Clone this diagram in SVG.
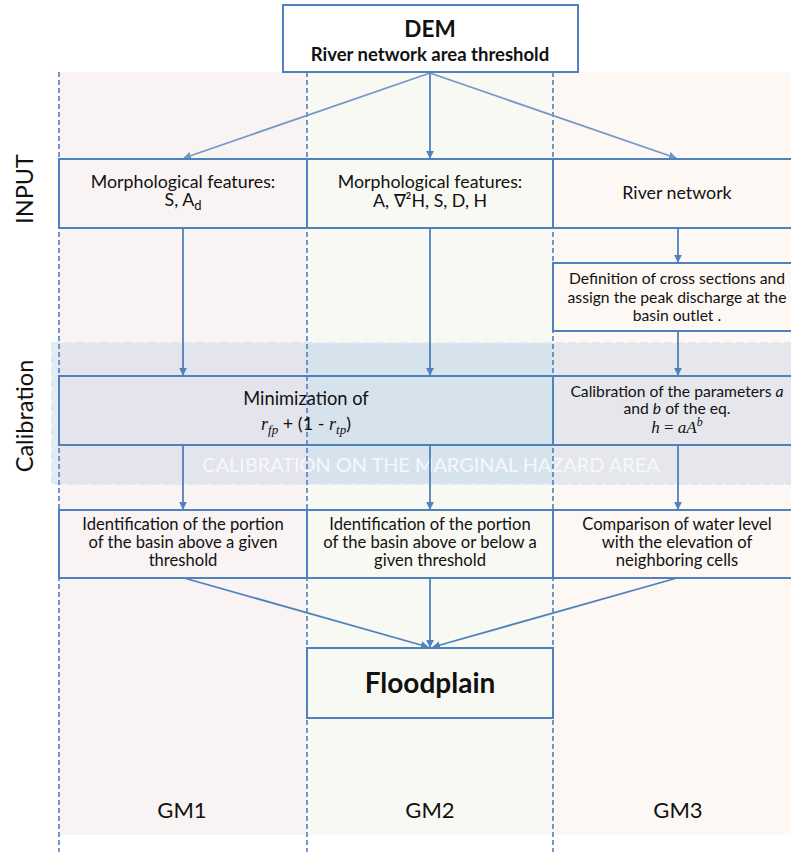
<svg xmlns="http://www.w3.org/2000/svg" width="791" height="852" viewBox="0 0 791 852">
<style>
text{font-family:Lato,"Open Sans","Liberation Sans",sans-serif;fill:#111;text-anchor:middle}
.box{fill:none;stroke:#4f81bd;stroke-width:2}
.wbox{fill:#fff;stroke:#4f81bd;stroke-width:2}
.dash{stroke:#4f81bd;stroke-width:1.6;stroke-dasharray:5 3;fill:none}
.conn{stroke:#4f81bd;stroke-width:1.8;fill:none;marker-end:url(#ah)}
.connl{stroke:#7298ca;stroke-width:1.8;fill:none;marker-end:url(#ahl)}
.t18{font-size:17.8px}
.t17{font-size:16.6px}
.t16{font-size:15.7px}
.lbl{font-size:23.5px}
.gm{font-size:22px}
.math{font-family:"Liberation Serif",serif;font-style:italic}
</style>
<defs>
<marker id="ah" viewBox="0 0 10 10" refX="9" refY="5" markerWidth="8" markerHeight="8" markerUnits="userSpaceOnUse" orient="auto"><path d="M0,0L10,5L0,10z" fill="#4f81bd"/></marker>
<marker id="ahl" viewBox="0 0 10 10" refX="9" refY="5" markerWidth="8" markerHeight="8" markerUnits="userSpaceOnUse" orient="auto"><path d="M0,0L10,5L0,10z" fill="#7298ca"/></marker>
</defs>
<rect width="791" height="852" fill="#fff"/>
<g id="columns">
<rect x="59" y="72" width="248" height="763" fill="#f9f3f3"/>
<rect x="307" y="72" width="246" height="763" fill="#f9f9f4"/>
<rect x="553" y="72" width="238" height="763" fill="#fdf8f4"/>
</g>
<g id="calibration-band">
<rect x="52" y="343" width="7" height="141" fill="#e3ecf3"/>
<rect x="59" y="343" width="248" height="141" fill="#e3e4ec"/>
<rect x="307" y="343" width="246" height="141" fill="#d6e3ed"/>
<rect x="553" y="343" width="238" height="141" fill="#e5e7ec"/>
<rect x="52" y="343" width="745" height="141" fill="none" stroke="#dbe9f4" stroke-width="2" stroke-dasharray="8 4"/>
<text x="431" y="472" style="font-size:19.9px;fill:#f6f8fb">CALIBRATION ON THE MARGINAL HAZARD AREA</text>
</g>
<g id="dividers">
<line class="dash" x1="59" y1="72" x2="59" y2="852"/>
<line class="dash" x1="307" y1="72" x2="307" y2="852"/>
<line class="dash" x1="553" y1="72" x2="553" y2="852"/>
</g>
<g id="row-labels">
<text class="lbl" transform="translate(33,189) rotate(-90)">INPUT</text>
<text class="lbl" transform="translate(33,416) rotate(-90)">Calibration</text>
</g>
<g id="connectors">
<line class="connl" x1="430" y1="73" x2="184" y2="158"/>
<line class="conn" x1="430" y1="73" x2="430" y2="158"/>
<line class="connl" x1="430" y1="73" x2="676" y2="158"/>
<line class="conn" x1="183" y1="228" x2="183" y2="375"/>
<line class="conn" x1="430" y1="228" x2="430" y2="375"/>
<line class="conn" x1="678" y1="228" x2="678" y2="262"/>
<line class="conn" x1="678" y1="331" x2="678" y2="375"/>
<line class="conn" x1="183" y1="445" x2="183" y2="509"/>
<line class="conn" x1="430" y1="445" x2="430" y2="509"/>
<line class="conn" x1="678" y1="445" x2="678" y2="509"/>
<line class="conn" x1="184" y1="578" x2="428" y2="647"/>
<line class="conn" x1="430" y1="578" x2="430" y2="647"/>
<line class="conn" x1="677" y1="578" x2="433" y2="647"/>
</g>
<g id="dem">
<rect class="wbox" x="283" y="5" width="295" height="67"/>
<text x="430" y="37" style="font-size:22.5px;font-weight:bold">DEM</text>
<text x="430" y="61" style="font-size:18.5px;font-weight:bold">River network area threshold</text>
</g>
<g id="morph1">
<rect class="box" x="59" y="159" width="248" height="69"/>
<text class="t18" x="183" y="188">Morphological features:</text>
<text class="t18" x="183" y="206">S, A<tspan font-size="13" dy="4">d</tspan></text>
</g>
<g id="morph2">
<rect class="box" x="307" y="159" width="246" height="69"/>
<text class="t18" x="430" y="188">Morphological features:</text>
<text class="t18" x="430" y="207">A, ∇²H, S, D, H</text>
</g>
<g id="river">
<rect class="box" x="553" y="159" width="245" height="69"/>
<text class="t18" x="677" y="199">River network</text>
</g>
<g id="cross">
<rect class="box" x="553" y="263" width="245" height="68"/>
<text class="t16" x="677" y="284">Definition of cross sections  and</text>
<text class="t16" x="677" y="303">assign the peak discharge at the</text>
<text class="t16" x="677" y="321">basin outlet .</text>
</g>
<g id="minimization">
<rect class="box" x="59" y="376" width="494" height="69"/>
<text x="306" y="405" style="font-size:18.3px">Minimization of</text>
<text x="306" y="430" style="font-size:18px"><tspan class="math">r</tspan><tspan class="math" font-size="13" dy="4">fp</tspan><tspan dy="-4"> + (1 - </tspan><tspan class="math">r</tspan><tspan class="math" font-size="13" dy="4">tp</tspan><tspan dy="-4">)</tspan></text>
</g>
<g id="calib3">
<rect class="box" x="553" y="376" width="245" height="69"/>
<text class="t16" x="677" y="397">Calibration of the parameters <tspan font-style="italic">a</tspan></text>
<text class="t16" x="677" y="414">and <tspan font-style="italic">b</tspan> of the eq.</text>
<text x="677" y="433" style="font-size:17px;font-family:'Liberation Serif',serif"><tspan font-style="italic">h</tspan> = <tspan font-style="italic">aA</tspan><tspan font-style="italic" font-size="12" dy="-7">b</tspan></text>
</g>
<g id="ident1">
<rect class="box" x="59" y="510" width="248" height="68"/>
<text class="t17" x="183" y="530">Identification of the portion</text>
<text class="t17" x="183" y="548">of the basin above a given</text>
<text class="t17" x="183" y="566">threshold</text>
</g>
<g id="ident2">
<rect class="box" x="307" y="510" width="246" height="68"/>
<text class="t17" x="430" y="530">Identification of the portion</text>
<text class="t17" x="430" y="548">of the basin above or below a</text>
<text class="t17" x="430" y="566">given threshold</text>
</g>
<g id="compare3">
<rect class="box" x="553" y="510" width="245" height="68"/>
<text class="t17" x="677" y="530">Comparison of water level</text>
<text class="t17" x="677" y="548">with the elevation of</text>
<text class="t17" x="677" y="566">neighboring cells</text>
</g>
<g id="floodplain">
<rect class="box" x="307" y="648" width="246" height="70"/>
<text x="430" y="693" style="font-size:28px;font-weight:bold">Floodplain</text>
</g>
<g id="gm-labels">
<text class="gm" x="182" y="818">GM1</text>
<text class="gm" x="430" y="818">GM2</text>
<text class="gm" x="678" y="818">GM3</text>
</g>
</svg>
